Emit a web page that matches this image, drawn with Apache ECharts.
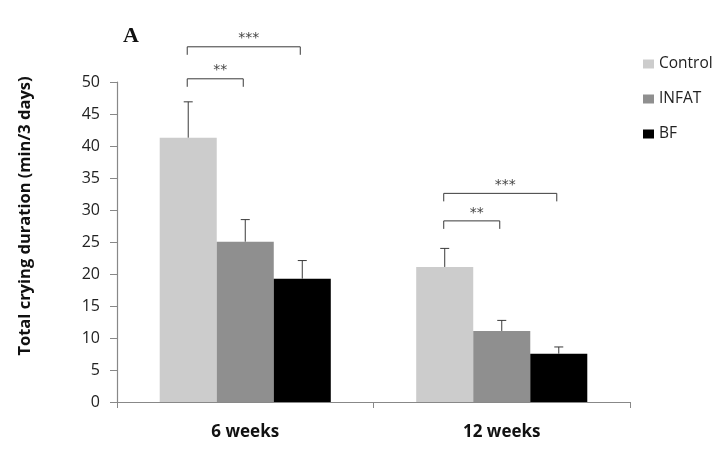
<!DOCTYPE html>
<html><head><meta charset="utf-8">
<script src="https://cdn.jsdelivr.net/npm/echarts@6/dist/echarts.min.js"></script>
<style>html,body{margin:0;padding:0;background:#fff}#c{width:722px;height:450px}</style>
</head><body><div id="c"></div>
<script>
var categories = ['6 weeks', '12 weeks'];
var seriesNames = ['Control', 'INFAT', 'BF'];
var control = [41.3, 21.1];
var infat = [25.05, 11.1];
var bf = [19.27, 7.55];
var controlErrTop = [46.9, 24.0];
var infatErrTop = [28.5, 12.75];
var bfErrTop = [22.1, 8.6];
// brackets: [categoryIndex, fromBar, toBar, level, label]
var brackets = [
  [0, 0, 1, 50.5, '**'],
  [0, 0, 2, 55.5, '***'],
  [1, 0, 1, 28.3, '**'],
  [1, 0, 2, 32.6, '***']
];
var yTicks = { min: 0, max: 50, interval: 5 };

var colors = ['#cccccc', '#8f8f8f', '#000000'];
var CAT_GAP = 0.333;
var values = [control, infat, bf];
var errTops = [controlErrTop, infatErrTop, bfErrTop];

function barOffset(api, idx) {
  var catW = api.size([1, 0])[0];
  var bw = catW * (1 - CAT_GAP) / 3;
  return { off: (idx - 1) * bw, bw: bw };
}

var errData = [];
for (var s = 0; s < 3; s++) for (var c = 0; c < categories.length; c++) {
  errData.push([c, s, values[s][c], errTops[s][c]]);
}

var chart = echarts.init(document.getElementById('c'));
var series = seriesNames.map(function (n, i) {
  return {
    name: n, type: 'bar', data: values[i], barGap: 0, barCategoryGap: (CAT_GAP * 100) + '%',
    itemStyle: { color: colors[i] }, z: 2
  };
});
series.push({
  type: 'custom', z: 3, silent: true, clip: false,
  data: errData,
  renderItem: function (params, api) {
    var c = api.value(0), s = api.value(1);
    var b = barOffset(api, s);
    var cx = api.coord([c, 0])[0] + b.off;
    var y0 = api.coord([c, api.value(2)])[1];
    var y1 = api.coord([c, api.value(3)])[1];
    var style = { stroke: '#3a3a3a', lineWidth: 1 };
    return { type: 'group', children: [
      { type: 'line', shape: { x1: cx, y1: y0, x2: cx, y2: y1 }, style: style },
      { type: 'line', shape: { x1: cx - 4.5, y1: y1, x2: cx + 4.5, y2: y1 }, style: style }
    ]};
  }
});
series.push({
  type: 'custom', z: 3, silent: true, clip: false,
  data: brackets,
  renderItem: function (params, api) {
    var c = api.value(0);
    var b1 = barOffset(api, api.value(1));
    var b2 = barOffset(api, api.value(2));
    var base = api.coord([c, 0])[0];
    var x1 = base + b1.off - 1, x2 = base + b2.off - 2;
    var yl = api.coord([c, api.value(3)])[1];
    var yd = api.coord([c, api.value(3) - 1.25])[1];
    var style = { stroke: '#3a3a3a', lineWidth: 1, fill: null };
    var label = brackets[params.dataIndex][4];
    return { type: 'group', children: [
      { type: 'polyline', shape: { points: [[x1, yd], [x1, yl], [x2, yl], [x2, yd]] }, style: style },
      { type: 'text', style: { text: label, x: (x1 + x2) / 2 + 5, y: yl - 1, align: 'center', verticalAlign: 'bottom',
        font: '14px "DejaVu Sans"', fill: '#444' } }
    ]};
  }
});

chart.setOption({
  animation: false,
  grid: { left: 117, right: 92, top: 82, bottom: 48 },
  legend: {
    data: seriesNames, orient: 'vertical', left: 638, top: 51, icon: 'rect',
    itemWidth: 11, itemHeight: 9, itemGap: 19,
    textStyle: { fontFamily: 'Open Sans', fontSize: 15.5, color: '#222' }
  },
  graphic: [
    { type: 'text', left: 123, top: 25, style: { text: 'A', font: 'bold 22px "Liberation Serif"', fill: '#111' } },
    { type: 'text', x: 25, y: 216, rotation: Math.PI / 2,
      style: { text: 'Total crying duration (min/3 days)', font: 'bold 16.5px "Open Sans"', fill: '#111', align: 'center', verticalAlign: 'middle' } }
  ],
  xAxis: {
    type: 'category', data: categories,
    axisLine: { lineStyle: { color: '#888', width: 1.2 } },
    axisTick: { show: true, length: 6, lineStyle: { color: '#888' } },
    axisLabel: { fontFamily: 'Open Sans', fontWeight: 'bold', fontSize: 17, color: '#111', margin: 22 }
  },
  yAxis: {
    type: 'value', min: yTicks.min, max: yTicks.max, interval: yTicks.interval,
    splitLine: { show: false },
    axisLine: { show: true, lineStyle: { color: '#888', width: 1.2 } },
    axisTick: { show: true, length: 7, lineStyle: { color: '#888' } },
    axisLabel: { fontFamily: 'Open Sans', fontSize: 16, color: '#222', margin: 17 }
  },
  series: series
});
</script></body></html>
